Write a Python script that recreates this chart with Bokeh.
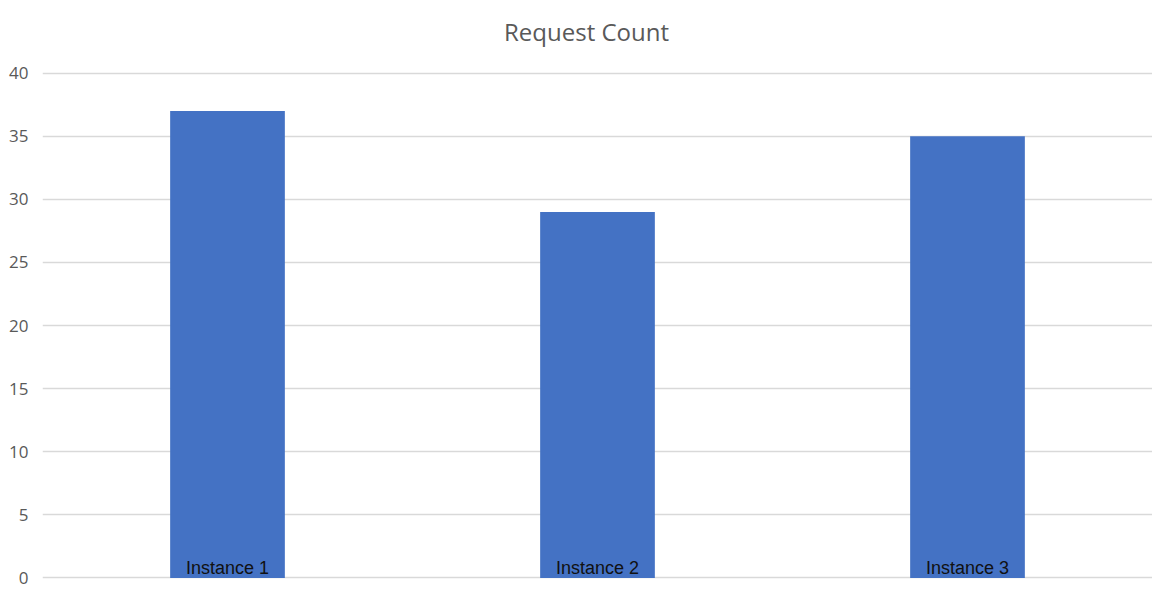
from bokeh.plotting import figure
from bokeh.models import ColumnDataSource, Range1d, FactorRange, FixedTicker
from bokeh.core.properties import value
from bokeh.embed import file_html
from bokeh.resources import INLINE

categories = ["Instance 1", "Instance 2", "Instance 3"]
counts = [37, 29, 35]
y_ticks = [0, 5, 10, 15, 20, 25, 30, 35, 40]
title_text = "Request Count"

source = ColumnDataSource(data=dict(cat=categories, count=counts, zero=[0] * len(categories)))

# y range extends above 40 to leave room for the title inside the canvas
p = figure(
    width=1152, height=588,
    x_range=FactorRange(*categories), y_range=Range1d(-0.12, 45.75),
    output_backend="svg", toolbar_location=None,
    min_border_left=42, min_border_right=0, min_border_top=0, min_border_bottom=9,
)

p.vbar(x="cat", top="count", width=0.31, source=source, fill_color="#4472C4", line_color=None)
p.text(x="cat", y="zero", text="cat", source=source, text_align="center", text_baseline="bottom",
       text_font=value("Liberation Sans"), text_font_size="18px", text_color="#111111")

title_src = ColumnDataSource(data=dict(x=[categories[1]], y=[43.3], text=[title_text]))
p.text(x="x", y="y", text="text", source=title_src, x_offset=-11,
       text_align="center", text_baseline="middle",
       text_font=value("Open Sans"), text_font_size="24px", text_color="#595959")

p.xaxis.visible = False
p.xgrid.grid_line_color = None
p.ygrid.grid_line_color = "#d9d9d9"
p.ygrid.grid_line_width = 1.5
p.outline_line_color = None

p.yaxis.ticker = FixedTicker(ticks=y_ticks)
p.yaxis.axis_line_color = None
p.yaxis.major_tick_line_color = None
p.yaxis.minor_tick_line_color = None
p.yaxis.major_label_text_color = "#595959"
p.yaxis.major_label_text_font = "Open Sans"
p.yaxis.major_label_text_font_size = "17px"
p.yaxis.major_label_standoff = 8

open("out.html", "w").write(file_html(p, INLINE))
